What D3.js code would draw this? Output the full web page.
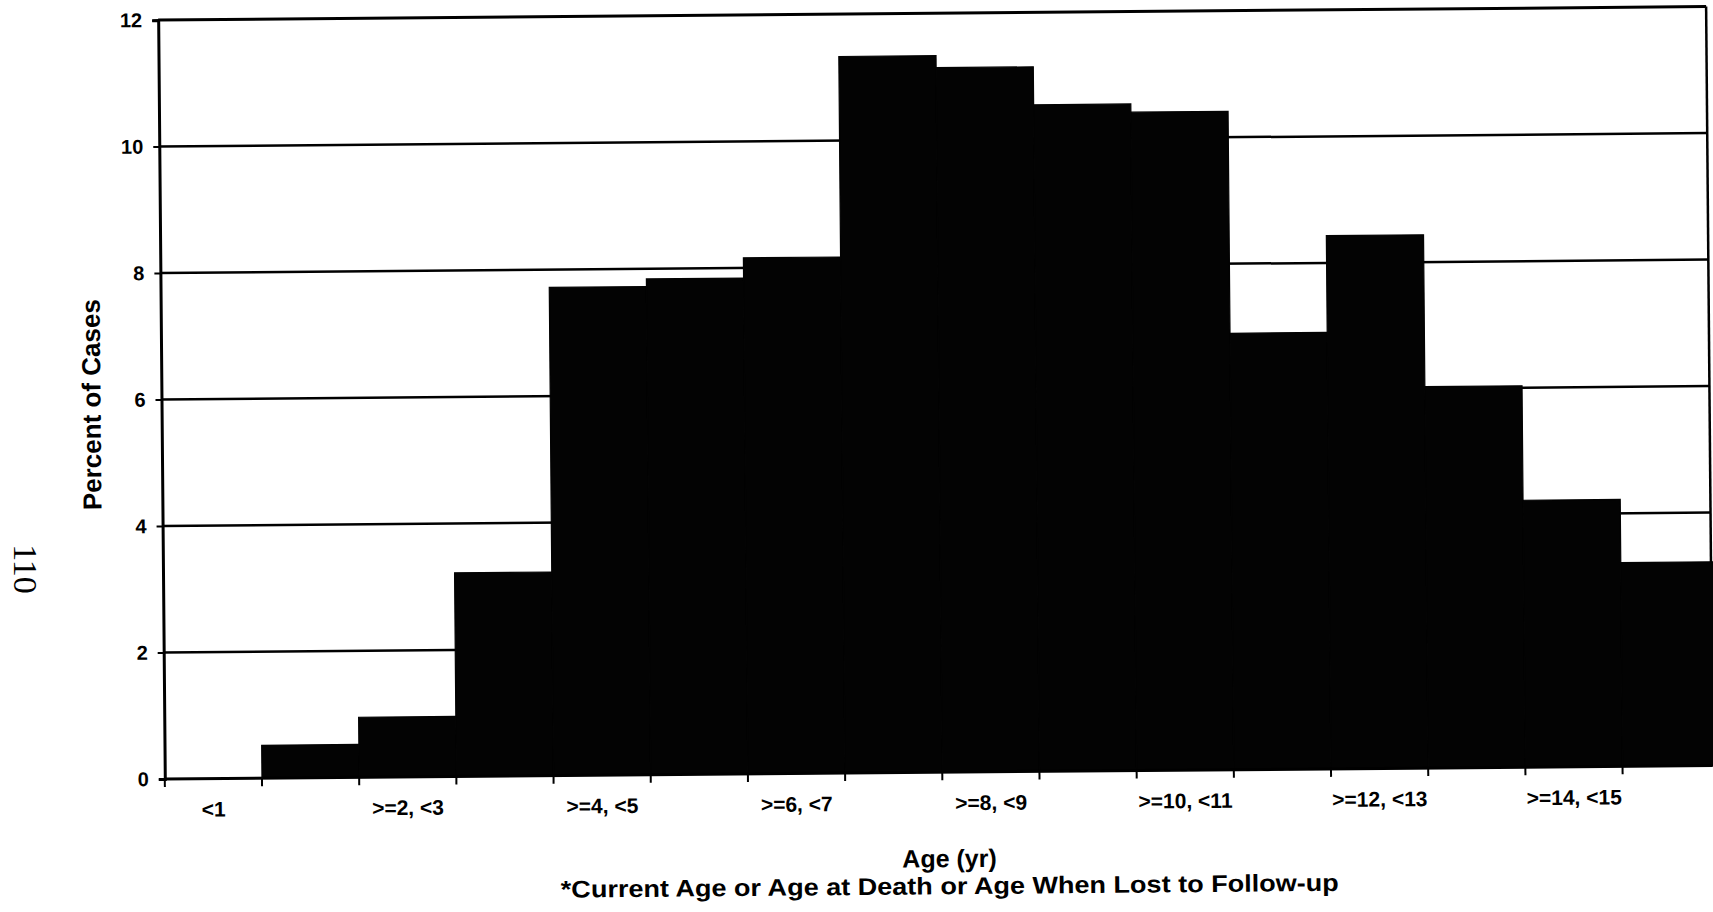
<!DOCTYPE html>
<html lang="en">
<head>
    <meta charset="utf-8">
    <title>Percent of Cases by Age</title>
    <script src="https://d3js.org/d3.v7.min.js"></script>
    <style type="text/css">
        body { margin: 0; background: #fff; }
        svg { display: block; }
        text { font-family: "Liberation Sans", Arial, sans-serif; font-weight: bold; fill: #000; }
    </style>
</head>
<body>
<script type="text/javascript">
    // Age bins (one bar per year) and percent of cases
    var categories = ["<1", ">=1, <2", ">=2, <3", ">=3, <4", ">=4, <5", ">=5, <6",
                      ">=6, <7", ">=7, <8", ">=8, <9", ">=9, <10", ">=10, <11",
                      ">=11, <12", ">=12, <13", ">=13, <14", ">=14, <15", ">=15"];
    var percentValues = [0, 0.52, 0.95, 3.22, 7.72, 7.84, 8.16, 11.33,
                         11.14, 10.54, 10.41, 6.90, 8.43, 6.03, 4.22, 3.22];
    var yTicks = [0, 2, 4, 6, 8, 10, 12];
    // only every other bin gets a label on the printed chart
    var shownLabels = ["<1", ">=2, <3", ">=4, <5", ">=6, <7", ">=8, <9",
                       ">=10, <11", ">=12, <13", ">=14, <15"];

    //Width and height
    var w = 1713;
    var h = 912;
    // (window.top is read-only, so these get their own names)
    var plotLeft = 162, plotRight = 1717, plotTop = 14, plotBottom = 773;
    var frameRight = 1710;

    var svg = d3.select("body")
                .append("svg")
                .attr("width", w)
                .attr("height", h);

    // page number from the scanned page
    svg.append("text")
       .attr("transform", "translate(14,569) rotate(90)")
       .attr("text-anchor", "middle")
       .style("font-family", "'Liberation Serif', 'Times New Roman', serif")
       .style("font-weight", "normal")
       .style("font-size", "34px")
       .text("110");

    // the scan is tilted a little, so the whole chart sits in a rotated group
    var chart = svg.append("g")
                   .attr("transform", "rotate(-0.5," + (w / 2) + "," + (h / 2) + ")");

    var x = d3.scaleBand()
              .domain(categories.slice(0, percentValues.length))
              .range([plotLeft, plotRight])
              .padding(0);

    var y = d3.scaleLinear()
              .domain([0, 12])
              .range([plotBottom, plotTop]);

    // horizontal gridlines (the top one doubles as the frame)
    chart.selectAll("line.grid")
         .data(yTicks.filter(function(d) { return d > 0; }))
         .enter()
         .append("line")
         .attr("class", "grid")
         .attr("x1", plotLeft)
         .attr("x2", frameRight)
         .attr("y1", function(d) { return y(d); })
         .attr("y2", function(d) { return y(d); })
         .attr("stroke", "#000")
         .attr("stroke-width", function(d) { return d == 12 ? 3 : 2.5; });

    // right frame line
    chart.append("line")
         .attr("x1", frameRight).attr("x2", frameRight)
         .attr("y1", y(12)).attr("y2", y(0))
         .attr("stroke", "#000")
         .attr("stroke-width", 2.5);

    // bars - stroked in the same colour so neighbours join without seams
    chart.selectAll("rect.bar")
         .data(percentValues)
         .enter()
         .append("rect")
         .attr("class", "bar")
         .attr("x", function(d, i) { return x(categories[i]); })
         .attr("width", x.bandwidth())
         .attr("y", function(d) { return y(d); })
         .attr("height", function(d) { return y(0) - y(d); })
         .attr("fill", "#030303")
         .attr("stroke", function(d) { return d > 0 ? "#030303" : "none"; })
         .attr("stroke-width", 1.2);

    // y axis
    var yAxis = d3.axisLeft(y)
                  .tickValues(yTicks)
                  .tickSize(6)
                  .tickPadding(10);
    var gy = chart.append("g")
                  .attr("transform", "translate(" + plotLeft + ",0)")
                  .call(yAxis);
    gy.select(".domain").attr("stroke-width", 3);
    gy.selectAll(".tick line").attr("stroke-width", 2);
    gy.selectAll(".tick text")
      .style("font-family", "'Liberation Sans', Arial, sans-serif")
      .style("font-weight", "bold")
      .style("font-size", "20px");

    // x axis: ticks on bin edges, labels on every other bin
    var edges = percentValues.map(function(d, i) { return x(categories[i]); });
    chart.append("line")
         .attr("x1", plotLeft).attr("x2", frameRight)
         .attr("y1", y(0)).attr("y2", y(0))
         .attr("stroke", "#000")
         .attr("stroke-width", 3);
    chart.selectAll("line.xtick")
         .data(edges)
         .enter()
         .append("line")
         .attr("class", "xtick")
         .attr("x1", function(d) { return d; })
         .attr("x2", function(d) { return d; })
         .attr("y1", y(0))
         .attr("y2", y(0) + 8)
         .attr("stroke", "#000")
         .attr("stroke-width", 2);
    chart.selectAll("text.xlabel")
         .data(shownLabels)
         .enter()
         .append("text")
         .attr("class", "xlabel")
         .attr("x", function(d) { return x(d) + x.bandwidth() / 2; })
         .attr("y", plotBottom + 38)
         .attr("text-anchor", "middle")
         .style("font-size", "21px")
         .text(function(d) { return d; });

    // axis titles
    chart.append("text")
         .attr("transform", "translate(101,398) rotate(-90)")
         .attr("text-anchor", "middle")
         .style("font-size", "26px")
         .text("Percent of Cases");

    chart.append("text")
         .attr("x", 946)
         .attr("y", 868)
         .attr("text-anchor", "middle")
         .style("font-size", "25px")
         .text("Age (yr)");

    chart.append("text")
         .attr("x", 946)
         .attr("y", 895)
         .attr("text-anchor", "middle")
         .attr("textLength", 778)
         .attr("lengthAdjust", "spacingAndGlyphs")
         .style("font-size", "24px")
         .text("*Current Age or Age at Death or Age When Lost to Follow-up");
</script>
</body>
</html>
